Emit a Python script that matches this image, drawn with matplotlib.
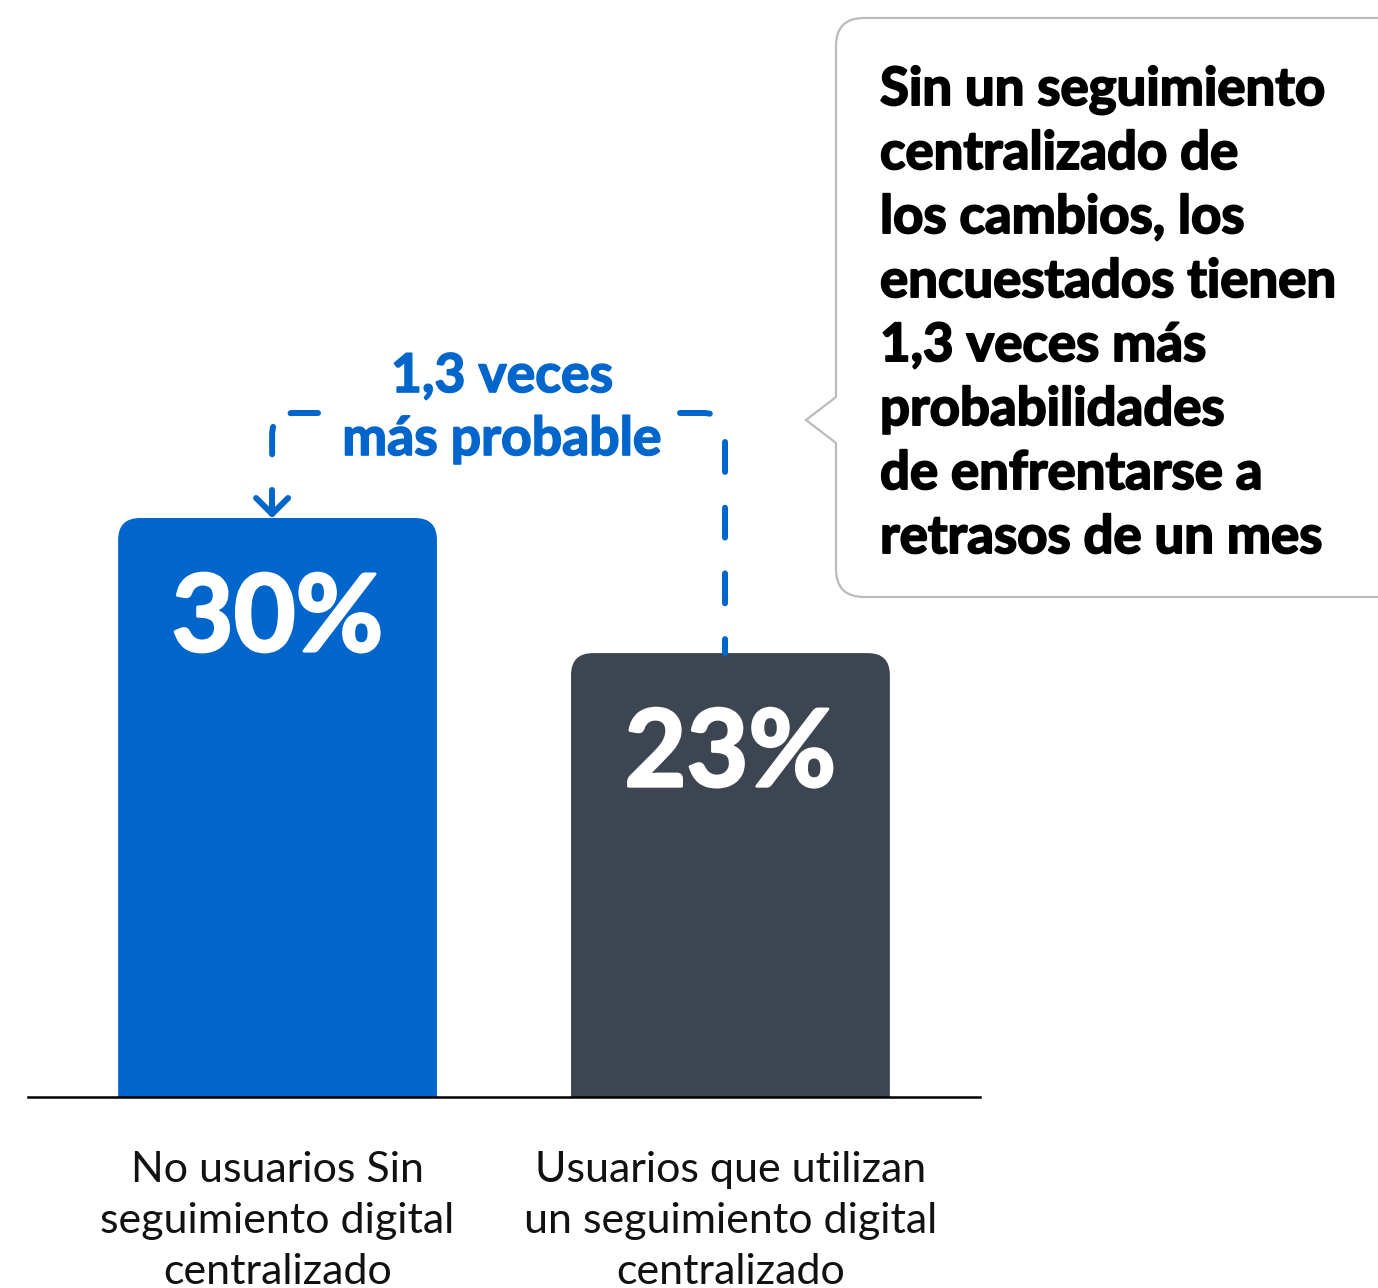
import matplotlib.pyplot as plt
import matplotlib.patheffects as pe
from matplotlib.patches import PathPatch
from matplotlib.path import Path

# datos
categorias = [["No usuarios Sin", "seguimiento digital", "centralizado"],
              ["Usuarios que utilizan", "un seguimiento digital", "centralizado"]]
valores = [30, 23]
colores = ["#0066CC", "#3D4650"]
etiqueta_ratio = ["1,3 veces", "más probable"]
texto_globo = ["Sin un seguimiento", "centralizado de", "los cambios, los",
               "encuestados tienen", "1,3 veces más", "probabilidades",
               "de enfrentarse a", "retrasos de un mes"]

AZUL = "#0066CC"
W, H = 1378, 1288
plt.rcParams['font.family'] = ['Lato', 'DejaVu Sans']

fig = plt.figure(figsize=(W / 100, H / 100), dpi=100)
ax = fig.add_axes([28 / W, (H - 1097) / H, 952 / W, 772 / H])
ax.set_xlim(-0.551, 1.551)
ax.set_ylim(0, 40)
for s in ["top", "right", "left"]:
    ax.spines[s].set_visible(False)
ax.spines["bottom"].set_linewidth(1.8)
ax.spines["bottom"].set_zorder(5)
ax.set_xticks([])
ax.set_yticks([])

# capa en pixeles para anotaciones
ov = fig.add_axes([0, 0, 1, 1], zorder=3)
ov.set_xlim(0, W)
ov.set_ylim(H, 0)
ov.axis("off")
ov.patch.set_visible(False)


def a_px(x, y):
    dx, dy = ax.transData.transform((x, y))
    return dx, H - dy


def grueso(c, w=1.3):
    return [pe.withStroke(linewidth=w, foreground=c)]


ancho = 0.704
r_px = 22
rx = r_px / 453
ry = r_px / 19.3
bars = ax.bar(range(len(valores)), valores, width=ancho, color=colores)
for b, v, c in zip(bars, valores, colores):
    b.set_visible(False)
    x0 = b.get_x()
    x1 = x0 + ancho
    verts = [(x0, 0), (x0, v - ry), (x0, v), (x0 + rx, v), (x1 - rx, v),
             (x1, v), (x1, v - ry), (x1, 0), (x0, 0)]
    codes = [Path.MOVETO, Path.LINETO, Path.CURVE3, Path.CURVE3, Path.LINETO,
             Path.CURVE3, Path.CURVE3, Path.LINETO, Path.CLOSEPOLY]
    ax.add_patch(PathPatch(Path(verts, codes), fc=c, ec="none"))
    ax.text(x0 + ancho / 2, v - 6.9, f"{v}%", color="white",
            fontsize=77, fontweight="bold", ha="center", va="baseline",
            path_effects=grueso("white", 2.0))

# etiquetas de categoria
for i, cat in enumerate(categorias):
    cx, _ = a_px(i, 0)
    for k, linea in enumerate(cat):
        ov.text(cx, 1182 + 51 * k, linea, fontsize=31, ha="center",
                va="baseline", color="#111111")

# corchete discontinuo
lw = 4.3
x1, y1 = a_px(0 - 0.012, valores[0])
x2, y2 = a_px(1 - 0.012, valores[1])
ytop = 413
rad = 22
der = Path([(680, ytop), (x2 - rad, ytop), (x2, ytop), (x2, ytop + rad), (x2, y2)],
           [Path.MOVETO, Path.LINETO, Path.CURVE3, Path.CURVE3, Path.LINETO])
ov.add_patch(PathPatch(der, fill=False, ec=AZUL, lw=lw, capstyle="round",
                       linestyle=(0, (5.0, 6.0))))
izq = Path([(318, ytop), (x1 + rad, ytop), (x1, ytop), (x1, ytop + rad), (x1, 462)],
           [Path.MOVETO, Path.LINETO, Path.CURVE3, Path.CURVE3, Path.LINETO])
ov.add_patch(PathPatch(izq, fill=False, ec=AZUL, lw=lw, capstyle="round",
                       linestyle=(0, (4.6, 4.0))))
punta = y1 - 4
ov.plot([x1, x1], [490, punta], color=AZUL, lw=lw, solid_capstyle="round")
ov.plot([x1 - 16, x1, x1 + 16], [punta - 16, punta, punta - 16], color=AZUL,
        lw=lw, solid_capstyle="round", solid_joinstyle="round")

for k, linea in enumerate(etiqueta_ratio):
    ov.text(502, 392 + 63 * k, linea, color=AZUL, fontsize=38.5,
            fontweight="bold", ha="center", va="baseline",
            path_effects=grueso(AZUL, 1.2))

# globo
L, T, B, R, rr = 836, 18, 597, 1420, 28
verts = [(R, T), (L + rr, T), (L, T), (L, T + rr), (L, 397), (806, 420),
         (L, 443), (L, B - rr), (L, B), (L + rr, B), (R, B)]
codes = [Path.MOVETO, Path.LINETO, Path.CURVE3, Path.CURVE3, Path.LINETO,
         Path.LINETO, Path.LINETO, Path.LINETO, Path.CURVE3, Path.CURVE3,
         Path.LINETO]
ov.add_patch(PathPatch(Path(verts, codes), fc="white", ec="#BBBBBB", lw=1.6,
                       joinstyle="miter"))
for k, linea in enumerate(texto_globo):
    ov.text(880, 105 + 64 * k, linea, fontsize=38, fontweight="bold",
            color="black", ha="left", va="baseline",
            path_effects=grueso("black", 1.4))

fig.savefig("out.png", dpi=100)
